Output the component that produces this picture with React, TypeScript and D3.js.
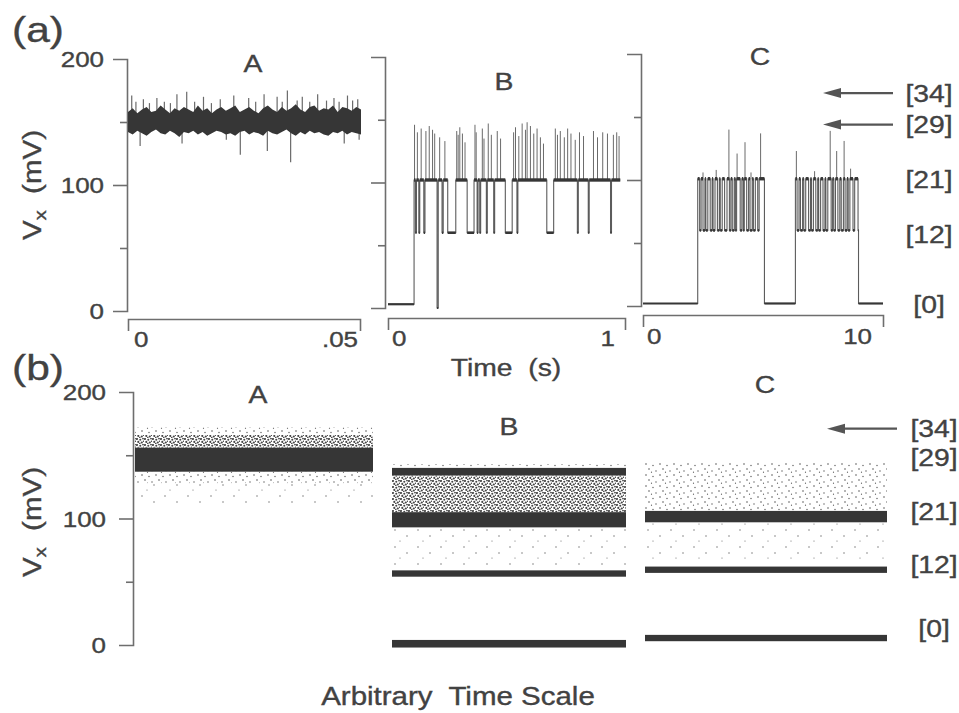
import React, { useEffect, useRef } from 'react';
import * as d3 from 'd3';

const SX = 1.18; // lettering in the scan is a little wide
const INK = '#363636';
const SPIKE = '#6a6a6a';
const AXIS = '#6e6e6e';
const TXT = '#424242';
const FONT = "'Liberation Sans', Arial, Helvetica, sans-serif";

// (a) A: fast record, 0 - 50 ms. envelope of the noise band [t ms, low mV, high mV]
const traceAEnvelope = [
  [0, 142, 158], [1, 140, 161], [2, 143, 157], [3, 141, 160], [4, 139, 162], [5, 142, 158],
  [6, 144, 159], [7, 141, 163], [8, 140, 160], [9, 143, 157], [10, 141, 161], [11, 138, 159],
  [12, 142, 162], [13, 141, 160], [14, 143, 158], [15, 140, 163], [16, 142, 159], [17, 139, 161],
  [18, 141, 157], [19, 143, 160], [20, 142, 162], [21, 140, 159], [22, 141, 161], [23, 139, 163],
  [24, 142, 158], [25, 143, 160], [26, 140, 162], [27, 142, 159], [28, 141, 157], [29, 139, 161],
  [30, 143, 163], [31, 141, 160], [32, 140, 158], [33, 142, 162], [34, 144, 159], [35, 141, 161],
  [36, 139, 164], [37, 142, 160], [38, 140, 158], [39, 143, 162], [40, 141, 163], [41, 142, 159],
  [42, 140, 161], [43, 139, 160], [44, 142, 163], [45, 141, 158], [46, 143, 162], [47, 140, 161],
  [48, 142, 159], [49, 141, 162], [50, 140, 160]
];
// excursions outside the band [t ms, mV]
const traceASpikes = [
  [0.8, 171], [1.7, 166], [2.6, 131], [3.3, 168], [4.6, 165], [6.2, 169], [7.8, 166], [9.1, 165],
  [10.5, 172], [11.6, 133], [12.6, 174], [14.3, 166], [16.2, 170], [17.9, 165], [19.8, 168],
  [21.1, 136], [22.7, 171], [24.1, 124], [25.9, 169], [27.4, 166], [29.2, 172], [29.9, 127],
  [32.0, 170], [33.1, 166], [34.2, 175], [34.9, 118], [36.3, 167], [37.4, 170], [39.0, 166],
  [40.7, 172], [42.6, 167], [44.2, 169], [45.3, 166], [46.4, 133], [47.1, 171], [48.2, 167],
  [49.3, 168], [49.6, 136]
];

// (a) B: 0 - 1 s, state levels [t s, mV]
const traceBSteps = [
  [0, 3], [0.11, 102], [0.116, 60], [0.12, 102], [0.13, 60], [0.134, 102], [0.151, 60], [0.156, 102],
  [0.207, 0], [0.212, 102], [0.228, 60], [0.233, 102], [0.252, 60], [0.286, 102], [0.334, 60],
  [0.363, 102], [0.376, 60], [0.38, 102], [0.387, 60], [0.391, 102], [0.415, 60], [0.419, 102],
  [0.446, 60], [0.45, 102], [0.495, 60], [0.524, 102], [0.544, 60], [0.548, 102], [0.67, 60],
  [0.699, 102], [0.799, 60], [0.803, 102], [0.845, 60], [0.849, 102], [0.939, 60], [0.943, 102],
  [0.98, 102]
];
const traceBSpikes = [
  [0.112, 146], [0.124, 140], [0.14, 143], [0.16, 141], [0.174, 145], [0.188, 142], [0.197, 139],
  [0.218, 136], [0.24, 133], [0.29, 141], [0.296, 138], [0.303, 144], [0.314, 139], [0.325, 132],
  [0.367, 146], [0.372, 140], [0.398, 143], [0.405, 135], [0.423, 147], [0.436, 138], [0.461, 141],
  [0.475, 135], [0.53, 140], [0.538, 144], [0.552, 137], [0.566, 147], [0.58, 142], [0.587, 148],
  [0.601, 145], [0.615, 139], [0.629, 143], [0.643, 136], [0.656, 131], [0.706, 143], [0.715, 138],
  [0.727, 141], [0.744, 136], [0.758, 143], [0.772, 139], [0.79, 134], [0.808, 140], [0.825, 137],
  [0.867, 141], [0.884, 136], [0.906, 140], [0.926, 139], [0.951, 138], [0.965, 140], [0.975, 137]
];

// (a) C: 0 - 10 s, slow levels [t s, mV] and the short visits to [21]
const traceCBase = [[0, 2], [2.28, 60], [5.06, 2], [6.35, 60], [8.98, 2], [10, 2]];
const traceCOpen = [
  [2.28, 2.36], [2.42, 2.5], [2.58, 2.62], [2.7, 2.8], [2.88, 2.92], [3.0, 3.1], [3.18, 3.22],
  [3.3, 3.4], [3.5, 3.6], [3.66, 3.72], [3.8, 3.85], [3.9, 4.05], [4.12, 4.18], [4.22, 4.32],
  [4.4, 4.46], [4.55, 4.6], [4.68, 4.78], [4.84, 5.06],
  [6.35, 6.42], [6.5, 6.56], [6.65, 6.7], [6.78, 6.9], [6.98, 7.02], [7.1, 7.2], [7.28, 7.32],
  [7.4, 7.5], [7.58, 7.62], [7.7, 7.84], [7.9, 7.95], [8.02, 8.12], [8.2, 8.26], [8.35, 8.42],
  [8.5, 8.55], [8.62, 8.75], [8.82, 8.96]
];
const traceCSpikes = [
  [2.5, 106], [3.05, 108], [3.58, 140], [3.92, 121], [4.25, 130], [4.5, 106], [4.9, 137],
  [6.39, 123], [7.15, 107], [7.8, 139], [8.07, 123], [8.38, 131], [8.65, 109]
];

// conductance levels shown at the right
const levelLabels = ['[34]', '[29]', '[21]', '[12]', '[0]'];
const levelsA = [168, 144, 100, 56, 1];
const levelsB = [171, 148, 105, 63, 13];
const arrowsA = [169, 144];
const arrowsB = [171];

// (b) point clouds as bands [low mV, high mV, density]
const cloudA = [[112, 128, 'faint'], [128, 137, 'light'], [137, 156, 'dense'], [156, 166, 'medium'], [166, 172, 'light']];
const cloudB = [[140, 143, 'light'], [134, 140, 'dense'], [105, 134, 'medium'], [93, 105, 'dense'], [62, 93, 'faint'], [54, 59, 'dense'], [-2, 4, 'dense']];
const cloudC = [[106, 144, 'light'], [97, 106, 'dense'], [68, 97, 'faint'], [57, 62, 'dense'], [3, 8, 'dense']];

const yTicksMajor = [100];
const yTicksMinor = [50, 150];

// scales
const yA1 = d3.scaleLinear().domain([0, 200]).range([311, 59]);
const yB1 = d3.scaleLinear().domain([0, 200]).range([308, 57]);
const yC1 = d3.scaleLinear().domain([0, 200]).range([306, 54]);
const xA1 = d3.scaleLinear().domain([0, 50]).range([128, 361]);
const xA1axis = d3.scaleLinear().domain([0, 50]).range([128, 360]);
const xB1 = d3.scaleLinear().domain([0, 1]).range([388, 625]);
const xC1 = d3.scaleLinear().domain([0, 10]).range([643, 883]);
const y2 = d3.scaleLinear().domain([0, 200]).range([645, 392]);
const xA2 = d3.scaleLinear().domain([0, 1]).range([135, 373]);
const xB2 = d3.scaleLinear().domain([0, 1]).range([392, 626]);
const xC2 = d3.scaleLinear().domain([0, 1]).range([645, 887]);

const fills: Record<string, string> = {
  dense: INK,
  medium: 'url(#speckMed)',
  light: 'url(#speckLight)',
  faint: 'url(#speckFaint)'
};

function stepsWithOpenings(base: number[][], open: number[][], high: number) {
  const times = Array.from(new Set([...base.map(d => d[0]), ...open.flat()])).sort((a, b) => a - b);
  const baseAt = (t: number) => {
    let v = base[0][1];
    for (const [bt, bv] of base) if (bt <= t) v = bv;
    return v;
  };
  return times.map(t => [t, open.some(([s, e]) => t >= s && t < e) ? high : baseAt(t)]);
}

// horizontal dwell segments of a step trace, drawn heavier than the jumps
function dwellSegments(steps: number[][]) {
  return steps.slice(0, -1).map((d, i) => ({ t0: d[0], t1: steps[i + 1][0], v: d[1] }));
}
const dwellWidth = (v: number) => (v > 90 ? 3.4 : v > 40 ? 2.6 : 2.2);

const Label = ({ x, y, size = 22, anchor = 'middle', children }: any) => (
  <g transform={`translate(${x},${y}) scale(${SX},1)`}>
    <text
      textAnchor={anchor}
      fontSize={size}
      fill={TXT}
      stroke={TXT}
      strokeWidth={0.35}
      fontFamily={FONT}
      style={{ whiteSpace: 'pre' }}
    >
      {children}
    </text>
  </g>
);

function YAxis({ scale, x }: any) {
  const ref = useRef<SVGGElement>(null);
  useEffect(() => {
    const g = d3.select(ref.current);
    g.selectAll('*').remove();
    g.append('g').call(d3.axisLeft(scale).tickValues(yTicksMajor).tickSize(14).tickFormat(() => ''));
    const minor = g.append('g').call(d3.axisLeft(scale).tickValues(yTicksMinor).tickSize(7).tickFormat(() => ''));
    minor.select('.domain').remove();
    g.attr('color', AXIS).selectAll('path, line').attr('stroke-width', 1.6);
  }, [scale, x]);
  return <g ref={ref} transform={`translate(${x},0)`} />;
}

function XAxis({ scale, y }: any) {
  const ref = useRef<SVGGElement>(null);
  useEffect(() => {
    const g = d3.select(ref.current);
    g.selectAll('*').remove();
    g.call(d3.axisBottom(scale).tickValues([]).tickSizeOuter(12));
    g.attr('color', AXIS).selectAll('path, line').attr('stroke-width', 1.6);
  }, [scale, y]);
  return <g ref={ref} transform={`translate(0,${y})`} />;
}

const VxLabel = ({ x, y }: any) => (
  <g transform={`translate(${x},${y}) rotate(-90) scale(${SX},1)`}>
    <text
      textAnchor="middle"
      fontSize={25}
      fill={TXT}
      stroke={TXT}
      strokeWidth={0.35}
      fontFamily={FONT}
      style={{ whiteSpace: 'pre' }}
    >
      V<tspan fontSize={17} dy={5}>x</tspan><tspan dy={-5}>{'  (mV)'}</tspan>
    </text>
  </g>
);

const Arrow = ({ y, x0, x1 }: any) => (
  <g>
    <line x1={x0 + 12} x2={x1} y1={y} y2={y} stroke="#555" strokeWidth={2.2} />
    <path d={`M${x0},${y} L${x0 + 18},${y - 5} L${x0 + 18},${y + 5} Z`} fill="#555" />
  </g>
);

const Cloud = ({ bands, x, y }: any) => (
  <g>
    {bands.map(([lo, hi, kind]: any, i: number) => (
      <rect key={i} x={x(0)} width={x(1) - x(0)} y={y(hi)} height={y(lo) - y(hi)} fill={fills[kind]} />
    ))}
  </g>
);

const StepTrace = ({ steps, spikes, spikeBase, x, y }: any) => {
  const line = d3.line<number[]>().curve(d3.curveStepAfter).x(d => x(d[0])).y(d => y(d[1]));
  return (
    <g>
      {spikes.map(([t, v]: number[], i: number) => (
        <line key={i} x1={x(t)} x2={x(t)} y1={y(spikeBase)} y2={y(v)} stroke={SPIKE} strokeWidth={1} />
      ))}
      <path d={line(steps) || ''} fill="none" stroke="#5c5c5c" strokeWidth={1.1} />
      {dwellSegments(steps).map((s, i) => (
        <line key={i} x1={x(s.t0)} x2={x(s.t1)} y1={y(s.v)} y2={y(s.v)} stroke={INK} strokeWidth={dwellWidth(s.v)} />
      ))}
    </g>
  );
};

export default function App() {
  const envArea = d3.area<number[]>().x(d => xA1(d[0])).y0(d => yA1(d[1])).y1(d => yA1(d[2]));
  const traceC = stepsWithOpenings(traceCBase, traceCOpen, 101);

  return (
    <svg width={959} height={713} style={{ position: 'absolute', left: 0, top: 0, background: '#fff' }}>
      <defs>
        <pattern id="speckMed" width={8} height={6} patternUnits="userSpaceOnUse">
          <circle cx={1} cy={1} r={1.05} fill="#474747" />
          <circle cx={4.3} cy={1.8} r={1.05} fill="#474747" />
          <circle cx={7} cy={0.6} r={0.9} fill="#474747" />
          <circle cx={2.3} cy={3.9} r={1.05} fill="#474747" />
          <circle cx={5.8} cy={4.5} r={1.1} fill="#474747" />
          <circle cx={7.6} cy={3.2} r={0.8} fill="#474747" />
          <circle cx={3.8} cy={5.6} r={0.8} fill="#474747" />
        </pattern>
        <pattern id="speckLight" width={14} height={11} patternUnits="userSpaceOnUse">
          <circle cx={2} cy={2} r={0.8} fill="#555" />
          <circle cx={9} cy={3.5} r={0.7} fill="#555" />
          <circle cx={5} cy={7} r={0.8} fill="#555" />
          <circle cx={12} cy={9} r={0.7} fill="#555" />
          <circle cx={7.5} cy={10.2} r={0.6} fill="#555" />
        </pattern>
        <pattern id="speckFaint" width={23} height={17} patternUnits="userSpaceOnUse">
          <circle cx={4} cy={3} r={0.7} fill="#666" />
          <circle cx={16} cy={9} r={0.7} fill="#666" />
          <circle cx={9} cy={14} r={0.6} fill="#666" />
        </pattern>
      </defs>

      {/* ---------- (a) ---------- */}
      <Label x={12} y={42} size={36} anchor="start">(a)</Label>
      <VxLabel x={41} y={185} />
      <Label x={104} y={yA1(200) + 8} anchor="end">200</Label>
      <Label x={104} y={yA1(100) + 8} anchor="end">100</Label>
      <Label x={104} y={yA1(0) + 8} anchor="end">0</Label>

      <YAxis scale={yA1} x={127} />
      <YAxis scale={yB1} x={385} />
      <YAxis scale={yC1} x={641} />
      <XAxis scale={xA1axis} y={319} />
      <XAxis scale={xB1} y={318} />
      <XAxis scale={xC1} y={315} />

      <Label x={253} y={72} size={24}>A</Label>
      <Label x={504} y={90} size={24}>B</Label>
      <Label x={760} y={65} size={24}>C</Label>

      <Label x={134} y={347} anchor="start">0</Label>
      <Label x={358} y={347} anchor="end">.05</Label>
      <Label x={392} y={346} anchor="start">0</Label>
      <Label x={615} y={346} anchor="end">1</Label>
      <Label x={647} y={344} anchor="start">0</Label>
      <Label x={872} y={344} anchor="end">10</Label>
      <Label x={506} y={376} size={24}>Time  (s)</Label>

      {/* trace A */}
      <g>
        {traceASpikes.map(([t, v], i) => (
          <line key={i} x1={xA1(t)} x2={xA1(t)} y1={yA1(150)} y2={yA1(v)} stroke={SPIKE} strokeWidth={1.2} />
        ))}
        <path d={envArea(traceAEnvelope) || ''} fill={INK} />
      </g>

      <StepTrace steps={traceBSteps} spikes={traceBSpikes} spikeBase={102} x={xB1} y={yB1} />
      <StepTrace steps={traceC} spikes={traceCSpikes} spikeBase={101} x={xC1} y={yC1} />

      {levelLabels.map((l, i) => (
        <Label key={l} x={929} y={yC1(levelsA[i]) + 8} size={24}>{l}</Label>
      ))}
      {arrowsA.map(v => <Arrow key={v} y={yC1(v)} x0={823} x1={893} />)}

      {/* ---------- (b) ---------- */}
      <Label x={12} y={380} size={36} anchor="start">(b)</Label>
      <VxLabel x={41} y={522} />
      <Label x={106} y={y2(200) + 8} anchor="end">200</Label>
      <Label x={106} y={y2(100) + 8} anchor="end">100</Label>
      <Label x={106} y={y2(0) + 8} anchor="end">0</Label>
      <YAxis scale={y2} x={133} />

      <Label x={258} y={403} size={24}>A</Label>
      <Label x={509} y={435} size={24}>B</Label>
      <Label x={765} y={393} size={24}>C</Label>

      <Cloud bands={cloudA} x={xA2} y={y2} />
      <Cloud bands={cloudB} x={xB2} y={y2} />
      <Cloud bands={cloudC} x={xC2} y={y2} />

      {levelLabels.map((l, i) => (
        <Label key={l} x={934} y={y2(levelsB[i]) + 8} size={24}>{l}</Label>
      ))}
      {arrowsB.map(v => <Arrow key={v} y={y2(v)} x0={827} x1={897} />)}

      <Label x={458} y={705} size={25}>Arbitrary  Time Scale</Label>
    </svg>
  );
}
